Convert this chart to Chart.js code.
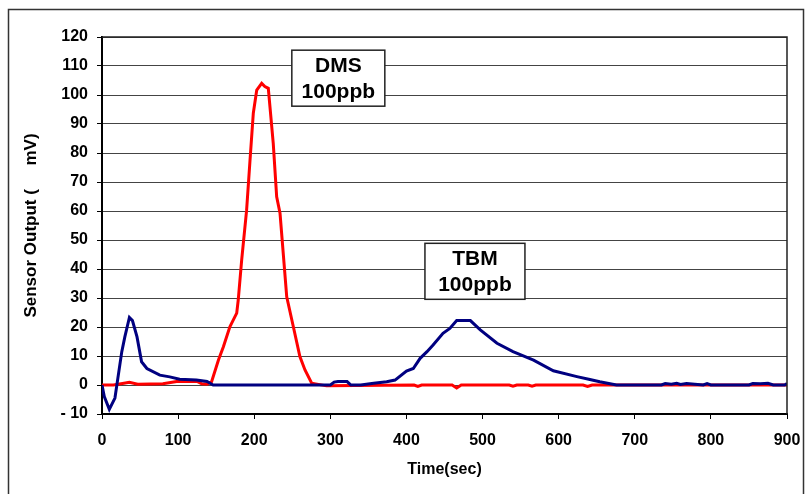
<!DOCTYPE html>
<html>
<head>
<meta charset="utf-8">
<script src="https://cdn.jsdelivr.net/npm/chart.js@4.4.1/dist/chart.umd.min.js"></script>
<style>
  html, body { margin: 0; padding: 0; background: #fff; }
  canvas { display: block; }
</style>
</head>
<body>
<canvas id="sensorChart" width="805" height="494"></canvas>
<script>
// TBM trace (blue)
const tbmTime  = [0, 3, 9.6, 17, 26, 30, 36, 40, 46, 52, 59, 76, 89, 102, 124, 138, 146, 300, 305, 310, 322, 327, 340, 357, 374, 385, 400, 409, 418, 427, 435, 448, 457, 466, 484, 497, 519, 540, 567, 593, 624, 641, 654, 676, 735, 740, 748, 755, 760, 768, 790, 795, 800, 850, 855, 865, 875, 882, 897, 900];
const tbmValue = [0, -4, -8.4, -4.5, 11.5, 16.6, 23.3, 22.2, 16.6, 8, 5.7, 3.4, 2.8, 2, 1.7, 1.2, 0, 0, 1, 1.2, 1.2, 0, 0, 0.6, 1.1, 1.7, 4.8, 5.7, 9.2, 11.5, 13.8, 17.8, 19.5, 22.2, 22.2, 19, 14.4, 11.5, 8.6, 4.9, 2.9, 1.9, 1.1, 0, 0, 0.5, 0.3, 0.6, 0.2, 0.5, 0, 0.5, 0, 0, 0.5, 0.4, 0.6, 0, 0, 0.5];

// DMS trace (red)
const dmsTime  = [0, 15, 25, 36, 47, 80, 100, 125, 131, 138, 144, 153, 159.5, 168, 177, 179, 183.5, 190, 194.5, 198.8, 203.3, 209.8, 214, 218.5, 225, 229.5, 233.9, 242.7, 251.4, 260, 266.7, 275.5, 295, 410, 415, 420, 460, 466, 472, 535, 540, 545, 560, 565, 570, 632, 638, 644, 900];
const dmsValue = [0, 0, 0.4, 0.9, 0.3, 0.4, 1.3, 1.2, 0.4, 0.3, 1.1, 8.6, 13.2, 20.1, 24.8, 29.3, 43.1, 60.3, 77.6, 93.7, 101.7, 104, 102.9, 102.3, 83.3, 64.9, 59.2, 30.4, 20.1, 9.8, 5.2, 0.6, -0.3, 0, -0.5, 0, 0, -1, 0, 0, -0.4, 0, 0, -0.4, 0, 0, -0.5, 0, 0];

// annotation boxes, placed in data coordinates
const labels = [
  { text: ['DMS', '100ppb'], x: 310.5, y: 105.8 },
  { text: ['TBM', '100ppb'], x: 490, y: 39.2 }
];

const xTicks = { min: 0, max: 900, step: 100 };
const yTicks = { min: -10, max: 120, step: 10 };

const toPoints = (xs, ys) => xs.map((x, i) => ({ x: x, y: ys[i] }));

const FONT = 'Liberation Sans, Arial, sans-serif';

const frame = {
  id: 'frame',
  beforeDraw(chart) {
    const { ctx } = chart;
    ctx.save();
    ctx.fillStyle = '#fff';
    ctx.fillRect(0, 0, chart.width, chart.height);
    ctx.strokeStyle = '#333';
    ctx.lineWidth = 1.5;
    ctx.strokeRect(8.5, 9.5, 795, 500);
    ctx.restore();
  },
  afterDraw(chart) {
    const { ctx, chartArea: { left, top, right, bottom } } = chart;
    ctx.save();
    ctx.strokeStyle = '#222';
    ctx.lineWidth = 1.5;
    ctx.beginPath();
    ctx.moveTo(left, top);
    ctx.lineTo(right, top);
    ctx.lineTo(right, bottom);
    ctx.stroke();
    ctx.restore();
  }
};

const boxLabels = {
  id: 'boxLabels',
  afterDatasetsDraw(chart) {
    const { ctx, scales: { x, y } } = chart;
    ctx.save();
    ctx.font = 'bold 21px ' + FONT;
    ctx.textAlign = 'center';
    ctx.textBaseline = 'middle';
    labels.forEach(l => {
      const cx = x.getPixelForValue(l.x);
      const cy = y.getPixelForValue(l.y);
      const w = l.text[0] === 'DMS' ? 93 : 100;
      const h = 56;
      ctx.fillStyle = '#fff';
      ctx.fillRect(cx - w / 2, cy - h / 2, w, h);
      ctx.strokeStyle = '#222';
      ctx.lineWidth = 1.5;
      ctx.strokeRect(cx - w / 2, cy - h / 2, w, h);
      ctx.fillStyle = '#000';
      ctx.fillText(l.text[0], cx, cy - 12);
      ctx.fillText(l.text[1], cx, cy + 14);
    });
    ctx.restore();
  }
};

const tickFont = { family: FONT, size: 16, weight: 'bold' };

new Chart(document.getElementById('sensorChart'), {
  type: 'line',
  data: {
    datasets: [
      {
        label: 'TBM',
        data: toPoints(tbmTime, tbmValue),
        borderColor: '#000080',
        borderWidth: 3,
        pointRadius: 0,
        tension: 0
      },
      {
        label: 'DMS',
        data: toPoints(dmsTime, dmsValue),
        borderColor: '#ff0000',
        borderWidth: 3,
        pointRadius: 0,
        tension: 0
      }
    ]
  },
  options: {
    responsive: false,
    animation: false,
    layout: { padding: { top: 37, right: 18, bottom: 0, left: 0 } },
    plugins: { legend: { display: false }, tooltip: { enabled: false } },
    scales: {
      x: {
        type: 'linear',
        min: xTicks.min,
        max: xTicks.max,
        ticks: { stepSize: xTicks.step, font: tickFont, color: '#000', padding: 12, maxRotation: 0 },
        grid: { drawOnChartArea: false, drawTicks: true, tickLength: 5, color: '#000' },
        border: { color: '#000', width: 2 },
        title: { display: true, text: 'Time(sec)', color: '#000', font: { family: FONT, size: 16, weight: 'bold' }, padding: { top: 0, bottom: 15 } },
        afterFit(s) { s.height = 80; s.paddingLeft = 0; s.paddingRight = 0; }
      },
      y: {
        min: yTicks.min,
        max: yTicks.max,
        ticks: {
          stepSize: yTicks.step, font: tickFont, color: '#000', padding: 9,
          callback: v => v < 0 ? '- ' + Math.abs(v) : String(v)
        },
        grid: { color: '#444', tickColor: '#000', tickLength: 5, lineWidth: 1 },
        border: { color: '#000', width: 2 },
        title: { display: true, text: 'Sensor Output (     mV)', color: '#000', font: { family: FONT, size: 17, weight: 'bold' }, padding: { top: 21, bottom: 0 } },
        afterFit(s) { s.width = 102; }
      }
    }
  },
  plugins: [frame, boxLabels]
});
</script>
</body>
</html>
